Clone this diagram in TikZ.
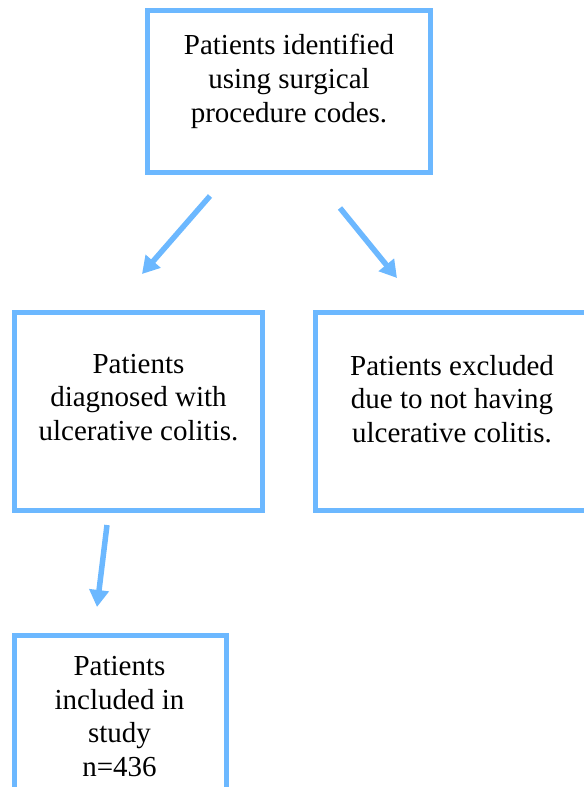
\documentclass[tikz,border=0pt]{standalone}
\usepackage{fontspec}
\setmainfont{Liberation Serif}
\usetikzlibrary{arrows.meta}
\definecolor{boxblue}{RGB}{108,184,255}
\begin{document}
\begin{tikzpicture}[x=1bp,y=-1bp,
  flowbox/.style={draw=boxblue,line width=5bp,inner sep=0pt,fill=none},
  flowtext/.style={align=center,inner sep=0pt,font=\fontsize{29bp}{33.5bp}\selectfont,anchor=base},
  flowarrow/.style={draw=boxblue,line width=5.5bp,-{Triangle[width=19bp,length=17bp]}}]
\useasboundingbox (0,0) rectangle (584,787);
% boxes
\node[flowbox,minimum width=283bp,minimum height=161bp] (top) at (289,91.5) {};
\node[flowbox,minimum width=248bp,minimum height=198bp] (left) at (138.5,411.5) {};
\node[flowbox,minimum width=276bp,minimum height=198bp] (right) at (453.5,411.5) {};
\node[flowbox,minimum width=211.5bp,minimum height=200bp] (bottom) at (120.25,735) {};
% texts (anchored at the baseline of the last line)
\node[flowtext] (toptext) at (289,122) {Patients identified\\using surgical\\procedure codes.};
\node[flowtext] (lefttext) at (138.5,440) {Patients\\diagnosed with\\ulcerative colitis.};
\node[flowtext] (righttext) at (452,442) {Patients excluded\\due to not having\\ulcerative colitis.};
\node[flowtext] (bottomtext) at (119.5,776) {Patients\\included in\\study\\n=436};
% arrow endpoints
\coordinate (a1s) at (210,196);
\coordinate (a1e) at (142,274);
\coordinate (a2s) at (340,208);
\coordinate (a2e) at (397,278);
\coordinate (a3s) at (107,525);
\coordinate (a3e) at (97,607);
\draw[flowarrow] (a1s) -- (a1e);
\draw[flowarrow] (a2s) -- (a2e);
\draw[flowarrow] (a3s) -- (a3e);
\end{tikzpicture}
\end{document}
